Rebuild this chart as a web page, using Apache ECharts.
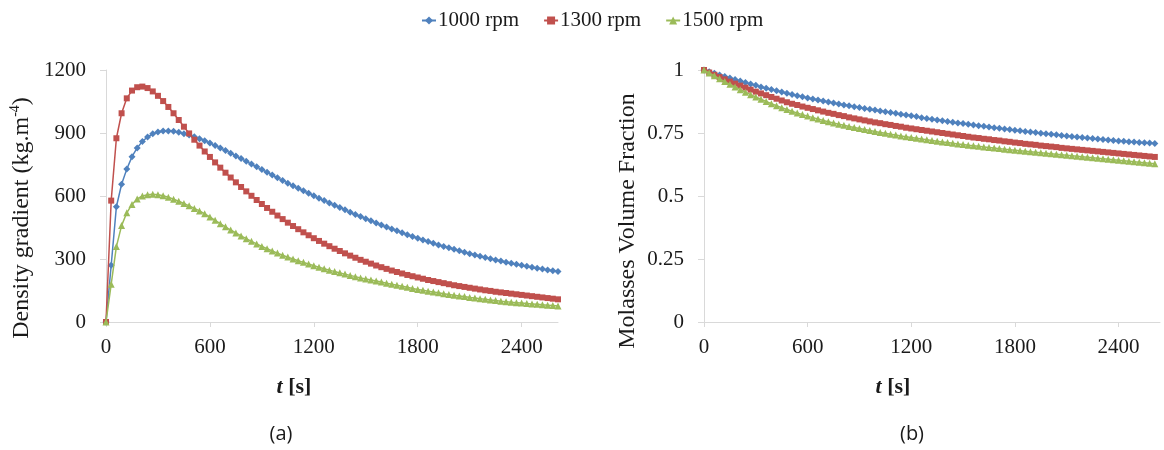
<!DOCTYPE html>
<html><head><meta charset="utf-8">
<script src="https://cdn.jsdelivr.net/npm/echarts@6/dist/echarts.min.js"></script>
<style>html,body{margin:0;padding:0;background:#fff}#c{width:1164px;height:450px}</style>
</head><body><div id="c"></div>
<script>
// time samples [s]
const times = [0,30,60,90,120,150,180,210,240,270,
  300,330,360,390,420,450,480,510,540,570,
  600,630,660,690,720,750,780,810,840,870,
  900,930,960,990,1020,1050,1080,1110,1140,1170,
  1200,1230,1260,1290,1320,1350,1380,1410,1440,1470,
  1500,1530,1560,1590,1620,1650,1680,1710,1740,1770,
  1800,1830,1860,1890,1920,1950,1980,2010,2040,2070,
  2100,2130,2160,2190,2220,2250,2280,2310,2340,2370,
  2400,2430,2460,2490,2520,2550,2580,2610];

// (a) Density gradient (kg.m^-4)
const density1000 = [0,270,549,656,728,787,829,860,881,896,
  905,909,910,908,903,897,890,882,873,863,
  852,841,829,817,804,791,778,765,752,739,
  726,713,700,687,674,661,649,637,625,613,
  601,589,578,567,556,545,534,523,512,502,
  492,482,472,462,452,443,434,425,416,407,
  399,391,383,375,367,360,353,346,339,332,
  325,319,313,307,301,295,290,285,280,275,
  270,265,261,256,252,248,244,240];
const density1300 = [0,578,875,994,1065,1102,1118,1121,1114,1098,
  1077,1052,1024,994,962,930,898,868,840,812,
  786,760,735,711,688,665,643,622,601,581,
  562,543,525,507,490,473,457,442,427,413,
  399,386,373,361,349,338,327,316,306,296,
  287,278,269,261,253,245,238,231,224,218,
  212,206,200,195,190,185,180,175,171,167,
  163,159,155,151,148,144,141,138,135,132,
  129,126,123,120,117,114,111,108];
const density1500 = [0,180,359,459,520,560,586,600,606,608,
  606,601,594,585,575,564,553,541,529,515,
  500,484,468,453,438,424,410,397,384,372,
  360,349,338,328,318,309,300,292,284,276,
  268,261,254,247,240,234,228,222,216,210,
  205,200,195,190,185,180,175,170,165,160,
  155,151,147,143,139,135,131,127,124,121,
  117,114,111,108,105,102,99,97,94,92,
  90,88,86,84,82,80,78,76];

// (b) Molasses volume fraction
const fraction1000 = [1.000,0.993,0.987,0.980,0.974,0.968,0.962,0.956,0.950,0.944,
  0.939,0.933,0.928,0.923,0.918,0.913,0.908,0.903,0.898,0.894,
  0.889,0.885,0.881,0.877,0.873,0.869,0.865,0.861,0.858,0.854,
  0.851,0.847,0.844,0.841,0.837,0.834,0.831,0.828,0.824,0.821,
  0.818,0.815,0.811,0.808,0.805,0.802,0.799,0.796,0.793,0.790,
  0.788,0.785,0.782,0.779,0.777,0.774,0.771,0.769,0.766,0.764,
  0.761,0.759,0.756,0.754,0.752,0.749,0.747,0.745,0.743,0.740,
  0.738,0.736,0.734,0.732,0.730,0.728,0.726,0.724,0.722,0.720,
  0.718,0.717,0.715,0.714,0.712,0.711,0.710,0.708];
const fraction1300 = [1.000,0.990,0.981,0.972,0.963,0.954,0.946,0.938,0.930,0.922,
  0.914,0.907,0.900,0.893,0.886,0.879,0.872,0.866,0.861,0.855,
  0.850,0.845,0.840,0.835,0.830,0.826,0.821,0.817,0.812,0.808,
  0.804,0.800,0.796,0.792,0.789,0.785,0.782,0.778,0.775,0.771,
  0.768,0.765,0.762,0.759,0.756,0.753,0.750,0.747,0.744,0.741,
  0.738,0.735,0.732,0.730,0.727,0.725,0.722,0.720,0.717,0.715,
  0.712,0.710,0.707,0.705,0.703,0.700,0.698,0.696,0.694,0.691,
  0.689,0.687,0.685,0.683,0.681,0.679,0.677,0.675,0.673,0.671,
  0.669,0.667,0.665,0.663,0.661,0.659,0.657,0.655];
const fraction1500 = [1.000,0.988,0.977,0.965,0.954,0.943,0.933,0.922,0.912,0.902,
  0.893,0.884,0.875,0.866,0.858,0.850,0.843,0.836,0.829,0.823,
  0.817,0.811,0.806,0.800,0.795,0.790,0.785,0.781,0.776,0.772,
  0.768,0.764,0.760,0.756,0.752,0.749,0.745,0.742,0.738,0.735,
  0.732,0.729,0.726,0.723,0.720,0.717,0.714,0.712,0.709,0.706,
  0.704,0.701,0.699,0.697,0.694,0.692,0.690,0.688,0.686,0.684,
  0.682,0.680,0.678,0.676,0.674,0.672,0.670,0.668,0.666,0.664,
  0.662,0.660,0.658,0.656,0.654,0.652,0.650,0.648,0.646,0.644,
  0.642,0.640,0.638,0.636,0.634,0.632,0.630,0.628];

const seriesNames = ['1000 rpm','1300 rpm','1500 rpm'];
const xTickLabels = [0,600,1200,1800,2400];
const yTicksA = [0,300,600,900,1200];
const yTicksB = [0,0.25,0.5,0.75,1];

const colors = ['#4F81BD','#C0504D','#9BBB59'];
const symbols = ['diamond','rect','triangle'];
const symbolSizes = [7,6,7];
const serif = 'Liberation Serif';
const axisColor = '#d9d9d9';
const textColor = '#1a1a1a';

const densitySets = [density1000, density1300, density1500];
const fractionSets = [fraction1000, fraction1300, fraction1500];
const pairs = (vals) => times.map((t,i)=>[t, vals[i]]);

function xAxisCfg(gridIndex, max){
  return {type:'value', gridIndex, min:0, max,
    axisLine:{show:true, lineStyle:{color:axisColor, width:1}},
    axisTick:{show:true, customValues:xTickLabels, length:5, lineStyle:{color:axisColor}},
    axisLabel:{customValues:xTickLabels, formatter:(v)=>String(v), fontFamily:serif, fontSize:21, color:textColor, margin:15},
    splitLine:{show:false}};
}
function yAxisCfg(gridIndex, max, interval, ticks){
  return {type:'value', gridIndex, min:0, max, interval,
    axisLine:{show:true, lineStyle:{color:axisColor, width:1}},
    axisTick:{show:true, length:6, lineStyle:{color:axisColor}},
    axisLabel:{customValues:ticks, formatter:(v)=>String(v), fontFamily:serif, fontSize:21, color:textColor, margin:20},
    splitLine:{show:false}};
}

const series = [];
for (let i=0;i<3;i++){
  series.push({name:seriesNames[i], type:'line', xAxisIndex:0, yAxisIndex:0,
    data:pairs(densitySets[i]), symbol:symbols[i], symbolSize:symbolSizes[i], showAllSymbol:true,
    itemStyle:{color:colors[i]}, lineStyle:{color:colors[i], width:1.5}, animation:false, z:3+i});
  series.push({name:seriesNames[i], type:'line', xAxisIndex:1, yAxisIndex:1,
    data:pairs(fractionSets[i]), symbol:symbols[i], symbolSize:symbolSizes[i], showAllSymbol:true,
    itemStyle:{color:colors[i]}, lineStyle:{color:colors[i], width:1.5}, animation:false, z:3+i});
}

const chart = echarts.init(document.getElementById('c'), null, {renderer:'canvas'});
chart.setOption({
  backgroundColor:'#ffffff',
  animation:false,
  legend:{data:seriesNames, top:5, left:416, itemWidth:14, itemHeight:10, itemGap:24,
    textStyle:{fontFamily:serif, fontSize:21, color:textColor, padding:[0,0,0,-3]}},
  grid:[
    {left:106, top:70, width:452, height:252},
    {left:704, top:70, width:456, height:252}
  ],
  xAxis:[xAxisCfg(0,2610), xAxisCfg(1,2640)],
  yAxis:[yAxisCfg(0,1200,300,yTicksA), yAxisCfg(1,1,0.25,yTicksB)],
  series,
  graphic:[
    {type:'text', x:22, y:218, rotation:Math.PI/2,
      style:{text:'{n|Density gradient (kg.m}{s|-4}{n|)}', align:'center', verticalAlign:'middle',
        rich:{n:{fontFamily:serif, fontSize:24, fill:textColor, lineHeight:28},
              s:{fontFamily:serif, fontSize:14, fill:textColor, verticalAlign:'top', lineHeight:28}}}},
    {type:'text', x:628, y:221, rotation:Math.PI/2,
      style:{text:'Molasses Volume Fraction', align:'center', verticalAlign:'middle',
        fontFamily:serif, fontSize:24, fill:textColor}},
    {type:'text', x:294, y:387,
      style:{text:'{t|t}{b| [s]}', align:'center', verticalAlign:'middle',
        rich:{t:{fontFamily:serif, fontSize:22, fontStyle:'italic', fontWeight:'bold', fill:textColor},
              b:{fontFamily:serif, fontSize:22, fontWeight:'bold', fill:textColor}}}},
    {type:'text', x:893, y:387,
      style:{text:'{t|t}{b| [s]}', align:'center', verticalAlign:'middle',
        rich:{t:{fontFamily:serif, fontSize:22, fontStyle:'italic', fontWeight:'bold', fill:textColor},
              b:{fontFamily:serif, fontSize:22, fontWeight:'bold', fill:textColor}}}},
    {type:'text', x:281, y:434,
      style:{text:'(a)', align:'center', verticalAlign:'middle', fontFamily:'Open Sans', fontSize:20, fill:textColor}},
    {type:'text', x:912, y:434,
      style:{text:'(b)', align:'center', verticalAlign:'middle', fontFamily:'Open Sans', fontSize:20, fill:textColor}}
  ]
});
</script>
</body></html>
